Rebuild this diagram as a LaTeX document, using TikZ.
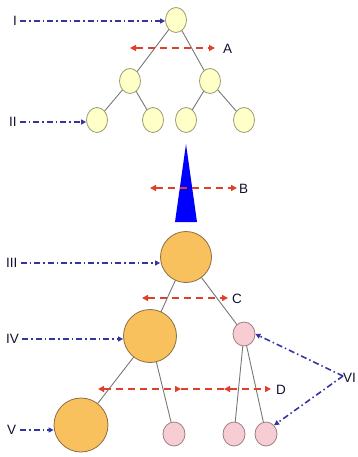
\documentclass[tikz,border=0pt]{standalone}
\usepackage{fontspec}
\setmainfont{Liberation Sans}
\usetikzlibrary{arrows.meta,shapes.geometric}
\definecolor{yel}{HTML}{FFFFC8}
\definecolor{yelb}{HTML}{9A9A70}
\definecolor{org}{HTML}{F9C15E}
\definecolor{orgb}{HTML}{8A6E45}
\definecolor{pnk}{HTML}{F7CCD3}
\definecolor{pnkb}{HTML}{9A7F82}
\definecolor{edgec}{HTML}{777777}
\definecolor{bluea}{HTML}{3535A0}
\definecolor{reda}{HTML}{E0402A}
\definecolor{labc}{HTML}{101030}
\begin{document}
\begin{tikzpicture}[x=1pt,y=-1pt,
  ynode/.style={ellipse,draw=yelb,fill=yel,line width=0.8pt,minimum width=21pt,minimum height=25pt,inner sep=0pt},
  onode/.style={circle,draw=orgb,fill=org,line width=0.8pt,inner sep=0pt},
  pnode/.style={ellipse,draw=pnkb,fill=pnk,line width=0.8pt,minimum width=22pt,minimum height=24pt,inner sep=0pt},
  tedge/.style={draw=edgec,line width=0.9pt},
  bluearr/.style={draw=bluea,line width=1.6pt,dash pattern=on 6pt off 3pt on 1.5pt off 3pt,-{Triangle[length=5pt,width=5pt]}},
  redarr/.style={draw=reda,line width=2pt,dash pattern=on 7pt off 5pt,{Triangle[length=6pt,width=6pt]}-{Triangle[length=6pt,width=6pt]}},
  redline/.style={draw=reda,line width=2pt,dash pattern=on 7pt off 5pt},
  lab/.style={text=labc,font=\fontsize{13.5}{15}\selectfont,inner sep=0pt}]
\useasboundingbox (0,0) rectangle (358,457);
% top tree
\coordinate (t0c) at (176,20);
\coordinate (t1c) at (130,81);
\coordinate (t2c) at (210,81);
\coordinate (t3c) at (97,120);
\coordinate (t4c) at (153,120);
\coordinate (t5c) at (186,120);
\coordinate (t6c) at (244,120);
\path[tedge] (t0c) -- (t1c) (t0c) -- (t2c) (t1c) -- (t3c) (t1c) -- (t4c) (t2c) -- (t5c) (t2c) -- (t6c);
\node[ynode] (t0) at (t0c) {};
\node[ynode] (t1) at (t1c) {};
\node[ynode] (t2) at (t2c) {};
\node[ynode] (t3) at (t3c) {};
\node[ynode] (t4) at (t4c) {};
\node[ynode] (t5) at (t5c) {};
\node[ynode] (t6) at (t6c) {};
% triangle
\coordinate (ta) at (186,144);
\coordinate (tb) at (175,222);
\coordinate (tc) at (197,222);
\fill[blue] (ta) -- (tb) -- (tc) -- cycle;
% bottom tree
\coordinate (b0c) at (186,257);
\coordinate (b1c) at (150,336);
\coordinate (b2c) at (81,425);
\coordinate (p1c) at (244,334);
\coordinate (p2c) at (174,434);
\coordinate (p3c) at (234,434);
\coordinate (p4c) at (266,434);
\path[tedge] (b0c) -- (b1c) (b0c) -- (p1c) (b1c) -- (b2c) (b1c) -- (p2c) (p1c) -- (p3c) (p1c) -- (p4c);
\node[onode,minimum size=51pt] (b0) at (b0c) {};
\node[onode,minimum size=53pt] (b1) at (b1c) {};
\node[onode,minimum size=54pt] (b2) at (b2c) {};
\node[pnode] (p1) at (p1c) {};
\node[pnode] (p2) at (p2c) {};
\node[pnode] (p3) at (p3c) {};
\node[pnode] (p4) at (p4c) {};
% labels
\node[lab,anchor=west] (lI) at (13,21) {I};
\node[lab,anchor=west] (lII) at (9,122) {II};
\node[lab,anchor=west] (lIII) at (6,263) {III};
\node[lab,anchor=west] (lIV) at (6,339) {IV};
\node[lab,anchor=west] (lV) at (7,430) {V};
\node[lab,anchor=west] (lA) at (223,49) {A};
\node[lab,anchor=west] (lB) at (239,189) {B};
\node[lab,anchor=west] (lC) at (232,299) {C};
\node[lab,anchor=west] (lD) at (276,390) {D};
\node[lab,anchor=west] (lVI) at (343,378) {VI};
\coordinate (vi) at (343,376);
% blue arrows
\draw[bluearr] (lI.east) ++(3pt,0) coordinate (sI) -- (t0.west |- sI);
\draw[bluearr] (lII.east) ++(3pt,0) coordinate (sII) -- (t3.west |- sII);
\draw[bluearr] (lIII.east) ++(3pt,0) coordinate (sIII) -- (b0.west |- sIII);
\draw[bluearr] (lIV.east) ++(3pt,0) coordinate (sIV) -- (b1.west |- sIV);
\draw[bluearr] (lV.east) ++(4pt,0) coordinate (sV) -- (b2.west |- sV);
\draw[bluearr] (vi) -- (p1.east);
\draw[bluearr] (vi) -- (p4.north east);
% red arrows
\coordinate (a1) at (130,48); \coordinate (a2) at (215,48);
\coordinate (bb1) at (150,188); \coordinate (bb2) at (237,188);
\coordinate (c1) at (142,298); \coordinate (c2) at (228,298);
\coordinate (d1) at (98,389); \coordinate (d2) at (181,389);
\coordinate (d3) at (224,389); \coordinate (d4) at (271,389);
\draw[redarr] (a1) -- (a2);
\draw[redarr] (bb1) -- (bb2);
\draw[redarr] (c1) -- (c2);
\draw[redarr] (d1) -- (d2);
\draw[redline] (d2) -- (d3);
\draw[redarr] (d3) -- (d4);
\end{tikzpicture}
\end{document}
